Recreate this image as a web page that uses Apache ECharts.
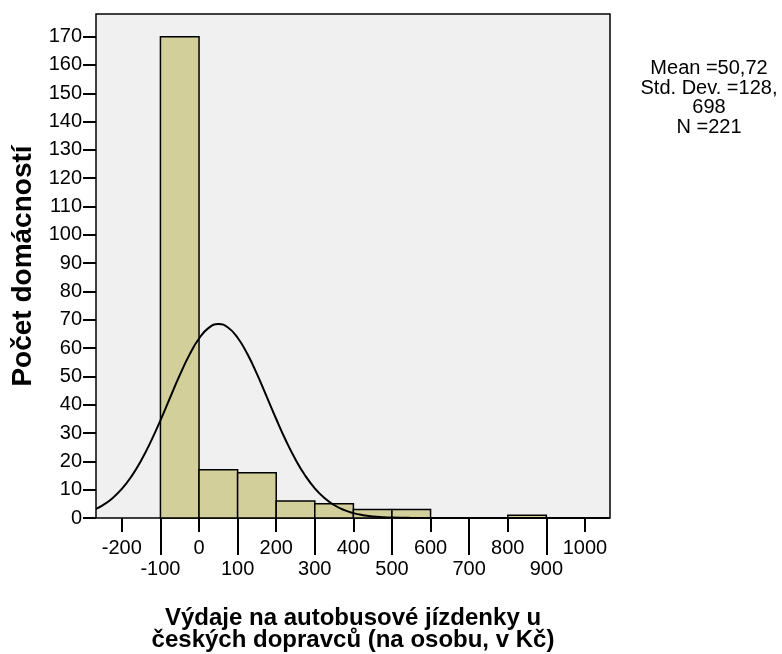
<!DOCTYPE html>
<html>
<head>
<meta charset="utf-8">
<script src="https://cdn.jsdelivr.net/npm/echarts@6/dist/echarts.min.js"></script>
<style>
  html, body { margin: 0; padding: 0; background: #fff; }
  #chart { width: 782px; height: 654px; }
</style>
</head>
<body>
<div id="chart"></div>
<script>
  // histogram bins (from, to, count)
  var binStart = [-100, 0, 100, 200, 300, 400, 500, 800];
  var binEnd   = [0, 100, 200, 300, 400, 500, 600, 900];
  var counts   = [170, 17, 16, 6, 5, 3, 3, 1];

  // normal curve
  var curveX = [-267, -250, -225, -200, -175, -150, -125, -100, -75, -50, -25, 0, 25, 50, 75, 100,
                125, 150, 175, 200, 225, 250, 275, 300, 325, 350, 375, 400, 425, 450, 475, 500, 550, 600, 700, 1065];
  var curveY = [3.25, 4.47, 6.9, 10.27, 14.71, 20.3, 26.97, 34.5, 42.51, 50.43, 57.62, 63.38, 67.14, 68.5, 67.29, 63.66,
                57.99, 50.88, 42.97, 34.96, 27.38, 20.66, 15.0, 10.49, 7.07, 4.59, 2.86, 1.72, 1.0, 0.56, 0.3, 0.15, 0.04, 0.01, 0, 0];

  var xTicksUpper = [-200, 0, 200, 400, 600, 800, 1000];
  var xTicksLower = [-100, 100, 300, 500, 700, 900];
  var yTicks = [0, 10, 20, 30, 40, 50, 60, 70, 80, 90, 100, 110, 120, 130, 140, 150, 160, 170];

  var statLines = ['Mean =50,72', 'Std. Dev. =128,', '698', 'N =221'];

  var font = '"Liberation Sans", Arial, sans-serif';
  var xMin = -267, xMax = 1065;

  var bars = [];
  for (var i = 0; i < counts.length; i++) {
    bars.push([binStart[i], binEnd[i], counts[i]]);
  }
  var curve = [];
  for (var j = 0; j < curveX.length; j++) {
    curve.push([curveX[j], curveY[j]]);
  }

  function plain(v) { return String(v); }

  var myChart = echarts.init(document.getElementById('chart'));

  var option = {
    animation: false,
    textStyle: { fontFamily: font },
    grid: {
      left: 96, top: 14, right: 172, bottom: 136,
      outerBoundsMode: 'none',
      containLabel: false,
      show: true,
      backgroundColor: '#f0f0f0',
      borderColor: '#000',
      borderWidth: 1.5
    },
    xAxis: [
      {
        type: 'value',
        min: xMin, max: xMax,
        position: 'bottom',
        splitLine: { show: false },
        axisLine: { show: false, onZero: false },
        axisTick: { show: true, customValues: xTicksUpper, length: 14, lineStyle: { color: '#000', width: 2 } },
        axisLabel: { customValues: xTicksUpper, formatter: plain, margin: 20, fontSize: 20, color: '#000', fontFamily: font },
        name: 'Výdaje na autobusové jízdenky u\nčeských dopravců (na osobu, v Kč)',
        nameLocation: 'middle',
        nameGap: 89,
        nameTextStyle: { fontSize: 24, fontWeight: 'bold', color: '#000', fontFamily: font, lineHeight: 22 }
      },
      {
        type: 'value',
        min: xMin, max: xMax,
        position: 'bottom',
        offset: 0,
        splitLine: { show: false },
        axisLine: { show: false, onZero: false },
        axisTick: { show: true, customValues: xTicksLower, length: 37, lineStyle: { color: '#000', width: 2 } },
        axisLabel: { customValues: xTicksLower, formatter: plain, margin: 41, fontSize: 20, color: '#000', fontFamily: font }
      }
    ],
    yAxis: {
      type: 'value',
      min: 0, max: 178,
      position: 'left',
      splitLine: { show: false },
      axisLine: { show: false, onZero: false },
      axisTick: { show: true, customValues: yTicks, length: 13, lineStyle: { color: '#000', width: 2 } },
      axisLabel: { customValues: yTicks, margin: 14, fontSize: 20, color: '#000', fontFamily: font },
      name: 'Počet domácností',
      nameLocation: 'middle',
      nameGap: 59,
      nameTextStyle: { fontSize: 28, fontWeight: 'bold', color: '#000', fontFamily: font }
    },
    graphic: [
      {
        type: 'text',
        x: 709, y: 59,
        style: {
          text: statLines.join('\n'),
          align: 'center',
          verticalAlign: 'top',
          font: '20px ' + font,
          lineHeight: 19.5,
          fill: '#000'
        }
      }
    ],
    series: [
      {
        type: 'custom',
        xAxisIndex: 0,
        data: bars,
        encode: { x: [0, 1], y: 2 },
        renderItem: function (params, api) {
          var p0 = api.coord([api.value(0), 0]);
          var p1 = api.coord([api.value(1), api.value(2)]);
          return {
            type: 'rect',
            shape: { x: p0[0], y: p1[1], width: p1[0] - p0[0], height: p0[1] - p1[1] },
            style: { fill: '#d3cf9b', stroke: '#000', lineWidth: 1.5 }
          };
        }
      },
      {
        type: 'line',
        xAxisIndex: 0,
        data: curve,
        smooth: true,
        showSymbol: false,
        clip: true,
        lineStyle: { color: '#000', width: 2 },
        z: 5
      }
    ]
  };

  myChart.setOption(option);
</script>
</body>
</html>
